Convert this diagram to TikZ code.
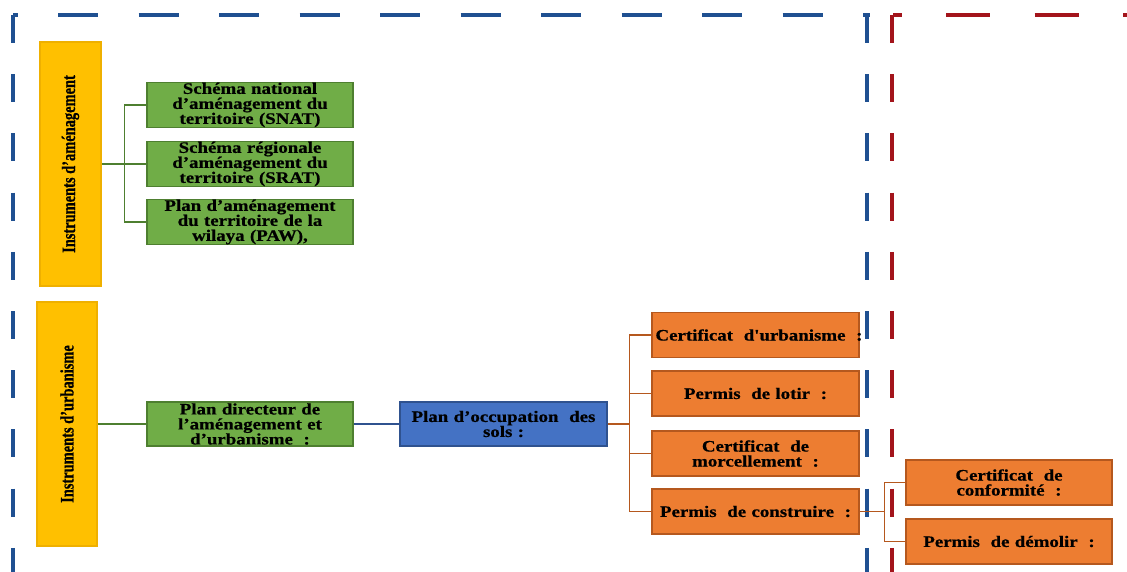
\documentclass[tikz,border=0pt]{standalone}
\usepackage{graphicx}
\usepackage{fontspec}
\setmainfont{Liberation Serif}
\newfontfamily\boxfont[FakeStretch=1.18,FakeBold=0.6]{Liberation Serif}
\newfontfamily\sidefont[FakeStretch=0.76,FakeBold=0.6]{Liberation Serif}
\definecolor{framebluec}{HTML}{1F5091}
\definecolor{frameredc}{HTML}{A3141B}
\definecolor{yellowfill}{HTML}{FFC000}
\definecolor{yellowline}{HTML}{EFB000}
\definecolor{greenfill}{HTML}{70AD47}
\definecolor{greenline}{HTML}{4E7F30}
\definecolor{bluefill}{HTML}{4472C4}
\definecolor{blueline}{HTML}{2F528F}
\definecolor{orangefill}{HTML}{ED7D31}
\definecolor{orangeline}{HTML}{B5581E}

\begin{document}
\begin{tikzpicture}[
  x=1pt, y=-1pt,
  sidebox/.style={rectangle,draw=yellowline,fill=yellowfill,line width=1.5pt,
    minimum width=61pt,minimum height=244pt,inner sep=0pt,
    font=\fontsize{19}{19}\sidefont\bfseries},
  greenbox/.style={rectangle,draw=greenline,fill=greenfill,line width=1.5pt,
    minimum width=206pt,minimum height=44pt,inner sep=0pt,text width=200pt,align=center,
    font=\fontsize{16}{15}\boxfont\bfseries},
  bluebox/.style={greenbox,draw=blueline,fill=bluefill},
  orangebox/.style={greenbox,draw=orangeline,fill=orangefill,minimum height=45pt},
  framepart/.style={line width=4pt},
  link/.style={line width=1.2pt}
]
\useasboundingbox (0,0) rectangle (1127,572);

% dashed frames
\draw[framepart,framebluec,dash pattern=on 40pt off 40.5pt,dash phase=35.5pt] (13,15) -- (870,15);
\draw[framepart,frameredc,dash pattern=on 44pt off 44.5pt,dash phase=35.5pt] (893,15) -- (1127,15);
\foreach \x/\c in {13/framebluec,867/framebluec,892/frameredc}
  \draw[framepart,\c,dash pattern=on 28pt off 31.2pt] (\x,15) -- (\x,575);

% side boxes
\node[sidebox] (amenag) at (70.5,164) {\rotatebox{90}{Instruments d’aménagement}};
\node[sidebox,minimum width=60pt] (urban) at (67,424) {\rotatebox{90}{Instruments d’urbanisme}};

% green boxes
\node[greenbox] (snat) at (250,105) {Schéma national\\d’aménagement du\\territoire (SNAT)};
\node[greenbox] (srat) at (250,164) {Schéma régionale\\d’aménagement du\\territoire (SRAT)};
\node[greenbox] (paw) at (250,222) {Plan d’aménagement\\du territoire de la\\wilaya (PAW),};
\node[greenbox] (pdau) at (250,424) {Plan directeur de\\l’aménagement et\\d’urbanisme~~:};

\node[bluebox,minimum width=207pt] (pos) at (503.5,424) {Plan d’occupation~~des\\sols :};

% orange boxes
\node[orangebox,minimum width=207pt] (cu) at (755.5,335) {Certificat~~d'urbanisme~~:};
\node[orangebox,minimum width=207pt] (pl) at (755.5,393.5) {Permis~~de lotir~~:};
\node[orangebox,minimum width=207pt] (cm) at (755.5,453.5) {Certificat~~de\\morcellement~~:};
\node[orangebox,minimum width=207pt] (pc) at (755.5,511.5) {Permis~~de construire~~:};
\node[orangebox] (cc) at (1009,482.5) {Certificat~~de\\conformité~~:};
\node[orangebox] (pd) at (1009,541.5) {Permis~~de démolir~~:};

% connectors
\foreach \n in {snat,srat,paw}
  \draw[link,greenline] (\n.west) -- ++(-22,0) |- (amenag.east);
\draw[link,greenline] (urban.east) -- (pdau.west);
\draw[link,blueline] (pdau.east) -- (pos.west);
\foreach \n in {cu,pl,cm,pc}
  \draw[link,orangeline] (\n.west) -- ++(-22,0) |- (pos.east);
\foreach \n in {cc,pd}
  \draw[link,orangeline] (\n.west) -- ++(-21,0) |- (pc.east);

\end{tikzpicture}
\end{document}
